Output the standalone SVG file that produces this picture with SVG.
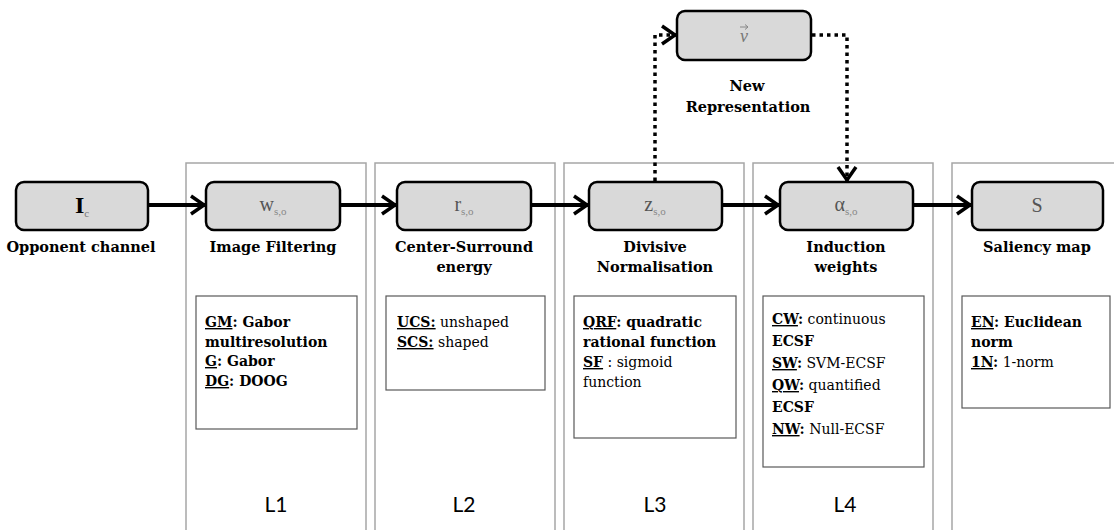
<svg xmlns="http://www.w3.org/2000/svg" width="1114" height="530" viewBox="0 0 1114 530">
<style>
.panel{fill:none;stroke:#a6a6a6;stroke-width:1.5}
.node{fill:#d9d9d9;stroke:#000;stroke-width:2.5}
.box{fill:#fff;stroke:#595959;stroke-width:1.2}
.lbl{font-family:"DejaVu Serif","Liberation Serif",serif;font-weight:bold;font-size:14.5px;text-anchor:middle;fill:#000}
.bt{font-family:"DejaVu Serif","Liberation Serif",serif;font-size:14px;fill:#000}
.b{font-weight:bold}
.u{text-decoration:underline}
.sym{font-family:"Liberation Serif",serif;font-size:20px;fill:#555}
.sub{font-size:11px;fill:#888}
.L{font-family:Lato,"Open Sans",sans-serif;font-size:21px;text-anchor:middle;fill:#000}
.conn{fill:none;stroke:#000;stroke-width:4}
.dot{fill:none;stroke:#000;stroke-width:3.5;stroke-dasharray:3.5 4}
</style>
<defs>
<marker id="ah" markerUnits="userSpaceOnUse" markerWidth="24" markerHeight="26" refX="19" refY="13" orient="auto" viewBox="0 0 24 26">
<polyline points="5,4 18,13 5,22" fill="none" stroke="#000" stroke-width="3.5"/>
</marker>
</defs>

<g id="panels">
<path class="panel" d="M186,530 V163 H366 V530"/>
<path class="panel" d="M375,530 V163 H555 V530"/>
<path class="panel" d="M564,530 V163 H744 V530"/>
<path class="panel" d="M753,530 V163 H933 V530"/>
<path class="panel" d="M952,530 V163 H1114"/>
</g>

<g id="connectors">
<line class="conn" x1="148" y1="205" x2="205" y2="205" marker-end="url(#ah)"/>
<line class="conn" x1="340" y1="205" x2="396" y2="205" marker-end="url(#ah)"/>
<line class="conn" x1="531" y1="205" x2="588" y2="205" marker-end="url(#ah)"/>
<line class="conn" x1="722" y1="205" x2="779" y2="205" marker-end="url(#ah)"/>
<line class="conn" x1="913" y1="205" x2="971" y2="205" marker-end="url(#ah)"/>
<polyline class="dot" points="655,181 655,35 676,35" marker-end="url(#ah)"/>
<polyline class="dot" points="812,35 847,35 847,181" marker-end="url(#ah)"/>
</g>

<g id="node-Ic">
<rect class="node" x="16" y="182" width="132" height="48" rx="8"/>
<text x="82" y="213" text-anchor="middle" font-family="Liberation Serif,serif" font-size="24" font-weight="bold" fill="#000">I<tspan font-size="11" font-weight="normal" fill="#777" dy="4">c</tspan></text>
<text class="lbl" x="81" y="252">Opponent channel</text>
</g>

<g id="node-w">
<rect class="node" x="206" y="182" width="134" height="48" rx="8"/>
<text class="sym" x="273" y="211" text-anchor="middle">w<tspan class="sub" dy="4">s,o</tspan></text>
<text class="lbl" x="273" y="252">Image Filtering</text>
</g>

<g id="node-r">
<rect class="node" x="397" y="182" width="134" height="48" rx="8"/>
<text class="sym" x="464" y="211" text-anchor="middle">r<tspan class="sub" dy="4">s,o</tspan></text>
<text class="lbl" x="464" y="252">Center-Surround</text>
<text class="lbl" x="464" y="272">energy</text>
</g>

<g id="node-z">
<rect class="node" x="589" y="182" width="133" height="48" rx="8"/>
<text class="sym" x="655" y="211" text-anchor="middle">z<tspan class="sub" dy="4">s,o</tspan></text>
<text class="lbl" x="655" y="252">Divisive</text>
<text class="lbl" x="655" y="272">Normalisation</text>
</g>

<g id="node-alpha">
<rect class="node" x="780" y="182" width="133" height="48" rx="8"/>
<text class="sym" x="846" y="211" text-anchor="middle" fill="#777" font-size="22">α<tspan class="sub" dy="4">s,o</tspan></text>
<text class="lbl" x="846" y="252">Induction</text>
<text class="lbl" x="846" y="272">weights</text>
</g>

<g id="node-S">
<rect class="node" x="972" y="182" width="131" height="48" rx="8"/>
<text class="sym" x="1037" y="212" text-anchor="middle" fill="#333" font-size="22">S</text>
<text class="lbl" x="1037" y="252">Saliency map</text>
</g>

<g id="node-v">
<rect class="node" x="677" y="11" width="134" height="49" rx="8"/>
<text x="744" y="42" text-anchor="middle" font-family="Liberation Serif,serif" font-style="italic" font-size="18" fill="#777">v</text>
<path d="M740,27 h8 M745,24.5 l3,2.5 l-3,2.5" fill="none" stroke="#888" stroke-width="1"/>
<text class="lbl" x="747" y="91">New</text>
<text class="lbl" x="748" y="112">Representation</text>
</g>

<g id="box-L1">
<rect class="box" x="196" y="296" width="161" height="133"/>
<text class="bt b" x="205" y="327"><tspan class="u">GM</tspan>: Gabor</text>
<text class="bt b" x="205" y="347">multiresolution</text>
<text class="bt b" x="205" y="366"><tspan class="u">G</tspan>: Gabor</text>
<text class="bt b" x="205" y="386"><tspan class="u">DG</tspan>: DOOG</text>
</g>

<g id="box-L2">
<rect class="box" x="386" y="296" width="159" height="94"/>
<text class="bt" x="397" y="327"><tspan class="b u">UCS:</tspan> unshaped</text>
<text class="bt" x="397" y="347"><tspan class="b u">SCS:</tspan> shaped</text>
</g>

<g id="box-L3">
<rect class="box" x="574" y="296" width="162" height="142"/>
<text class="bt b" x="583" y="327"><tspan class="u">QRF</tspan>: quadratic</text>
<text class="bt b" x="583" y="347">rational function</text>
<text class="bt" x="583" y="367"><tspan class="b u">SF</tspan> : sigmoid</text>
<text class="bt" x="583" y="387">function</text>
</g>

<g id="box-L4">
<rect class="box" x="763" y="296" width="161" height="171"/>
<text class="bt" x="772" y="324"><tspan class="b u">CW</tspan><tspan class="b">:</tspan> continuous</text>
<text class="bt b" x="772" y="346">ECSF</text>
<text class="bt" x="772" y="368"><tspan class="b u">SW</tspan><tspan class="b">:</tspan> SVM-ECSF</text>
<text class="bt" x="772" y="390"><tspan class="b u">QW</tspan><tspan class="b">:</tspan> quantified</text>
<text class="bt b" x="772" y="412">ECSF</text>
<text class="bt" x="772" y="434"><tspan class="b u">NW</tspan><tspan class="b">:</tspan> Null-ECSF</text>
</g>

<g id="box-L5">
<rect class="box" x="962" y="296" width="148" height="112"/>
<text class="bt b" x="971" y="327"><tspan class="u">EN</tspan>: Euclidean</text>
<text class="bt b" x="971" y="347">norm</text>
<text class="bt" x="971" y="367"><tspan class="b u">1N</tspan><tspan class="b">:</tspan> 1-norm</text>
</g>

<g id="layer-labels">
<text class="L" x="276" y="512">L1</text>
<text class="L" x="464" y="512">L2</text>
<text class="L" x="655" y="512">L3</text>
<text class="L" x="845" y="512">L4</text>
</g>
</svg>
